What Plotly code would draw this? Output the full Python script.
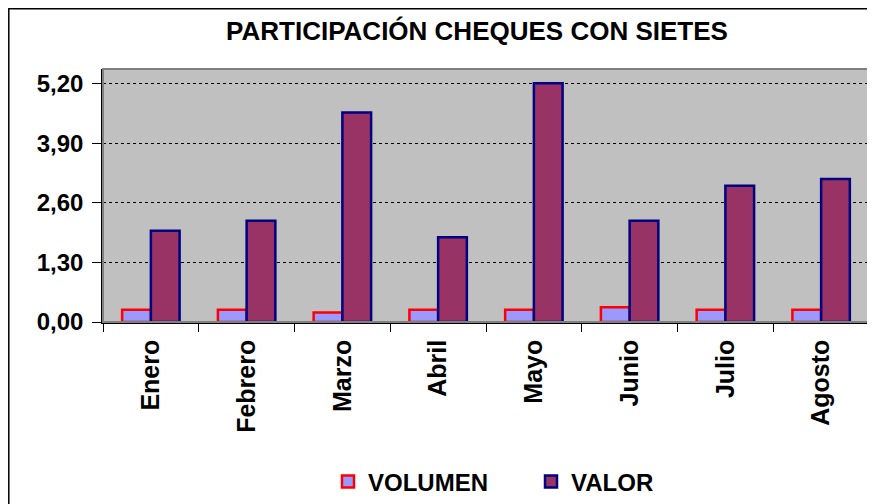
import plotly.graph_objects as go

meses = ["Enero", "Febrero", "Marzo", "Abril", "Mayo", "Junio", "Julio", "Agosto"]
volumen = [0.27, 0.27, 0.21, 0.27, 0.27, 0.32, 0.27, 0.27]
valor = [1.99, 2.21, 4.57, 1.85, 5.21, 2.21, 2.97, 3.12]
y_ticks = [0, 1.3, 2.6, 3.9, 5.2]

FONT = "Liberation Sans, Arial, sans-serif"
# the page body has an 8px margin, so the figure is drawn 8px in from the window edge
OFF = 8
W, H = 875 - OFF, 504 - OFF
L, R, T, B = 103 - OFF, 6, 69 - OFF, 182
pw, ph = W - L - R, H - T - B


def px_x(px):
    return (px - L) / pw


def px_y(py):
    return (H - B - py) / ph


fig = go.Figure()
fig.add_trace(go.Bar(
    x=meses, y=volumen, name="VOLUMEN",
    marker=dict(color="#9999FF", line=dict(color="#FF0000", width=2.5)),
))
fig.add_trace(go.Bar(
    x=meses, y=valor, name="VALOR",
    marker=dict(color="#993366", line=dict(color="#000080", width=2.5)),
))

# outer chart border
fig.add_shape(type="rect", xref="paper", yref="paper",
              x0=px_x(0.8), x1=px_x(W + 10), y0=px_y(H + 10), y1=px_y(0.8),
              line=dict(color="black", width=1.5), layer="below")
# plot area frame
fig.add_shape(type="rect", xref="paper", yref="paper", x0=0, x1=1, y0=0, y1=1,
              line=dict(color="#808080", width=2), layer="above")

fig.update_layout(
    width=W, height=H,
    margin=dict(l=L, r=R, t=T, b=B, autoexpand=False),
    paper_bgcolor="white",
    plot_bgcolor="#C0C0C0",
    separators=",.",
    barmode="group", bargap=0.4, bargroupgap=0,
    font=dict(family=FONT, color="black"),
    title=dict(text="PARTICIPACIÓN CHEQUES CON SIETES",
               x=(477 - OFF) / W, xanchor="center", y=1 - (31 - OFF) / H, yanchor="middle",
               font=dict(size=26, family=FONT, weight="bold")),
    legend=dict(orientation="h", x=(531 - OFF) / W, xanchor="center",
                xref="container", y=(H - (482 - OFF)) / H, yref="container", yanchor="middle",
                font=dict(size=24, family=FONT, weight="bold"),
                entrywidth=158, itemwidth=30),
    showlegend=True,
)
fig.update_xaxes(
    tickangle=-90, tickfont=dict(size=25, family=FONT, weight="bold"),
    ticks="outside", tickson="boundaries", ticklen=8, tickcolor="black",
    ticklabelstandoff=6,
    showline=True, linecolor="black", linewidth=1.5,
    showgrid=False, automargin=False,
)
fig.update_yaxes(
    range=[0, 5.52], tickvals=y_ticks, tickformat=".2f",
    tickfont=dict(size=24, family=FONT, weight="bold"),
    ticks="outside", ticklen=9, tickcolor="black",
    ticklabelstandoff=4,
    showline=True, linecolor="black", linewidth=1.5,
    showgrid=True, gridcolor="black", griddash="dot", gridwidth=1,
    zeroline=False, automargin=False,
)

fig.write_html("out.html")
